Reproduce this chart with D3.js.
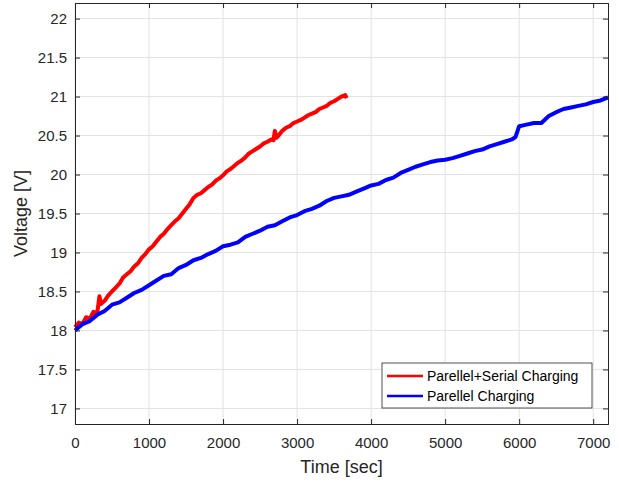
<!DOCTYPE html>
<html>
<head>
<meta charset="utf-8">
<script src="https://cdn.jsdelivr.net/npm/d3@7"></script>
<style>
  body { margin: 0; background: #fff; }
  svg { font-family: "Liberation Sans", Arial, sans-serif; }
</style>
</head>
<body>
<div id="chart"></div>
<script>
// series: parallel + serial charging (red), time in sec
const serialTime = [0, 50, 100, 150, 200, 250, 300, 330, 350, 400, 450, 500, 550, 600, 650, 700, 750, 800, 850, 900, 950,
    1000, 1050, 1100, 1150, 1200, 1250, 1300, 1350, 1400, 1450, 1500, 1550, 1600, 1650, 1700, 1750, 1800, 1850, 1900, 1950,
    2000, 2050, 2100, 2150, 2200, 2250, 2300, 2350, 2400, 2450, 2500, 2550, 2600, 2650, 2680, 2700, 2720, 2750, 2800, 2850, 2900, 2950,
    3000, 3050, 3100, 3150, 3200, 3250, 3300, 3350, 3400, 3450, 3500, 3550, 3600, 3650, 3670];
const serialVolt = [18.04, 18.1, 18.08, 18.17, 18.15, 18.24, 18.22, 18.44, 18.34, 18.38, 18.45, 18.5, 18.55, 18.6, 18.68, 18.72, 18.76, 18.82, 18.86, 18.93, 18.98,
    19.04, 19.08, 19.14, 19.2, 19.24, 19.3, 19.35, 19.4, 19.44, 19.5, 19.56, 19.62, 19.7, 19.74, 19.76, 19.8, 19.84, 19.87, 19.92, 19.95,
    19.99, 20.04, 20.07, 20.11, 20.15, 20.18, 20.22, 20.27, 20.3, 20.33, 20.36, 20.4, 20.42, 20.45, 20.44, 20.56, 20.47, 20.5, 20.56, 20.6, 20.62, 20.66,
    20.68, 20.7, 20.73, 20.76, 20.78, 20.8, 20.84, 20.86, 20.88, 20.92, 20.94, 20.97, 21.0, 21.02, 20.98];

// series: parallel charging (blue)
const parallelTime = [0, 100, 200, 300, 400, 500, 600, 700, 800, 900, 1000, 1100, 1200, 1300, 1400, 1500, 1600, 1700, 1800, 1900,
    2000, 2100, 2200, 2300, 2400, 2500, 2600, 2700, 2800, 2900, 3000, 3100, 3200, 3300, 3400, 3500, 3600, 3700, 3800, 3900,
    4000, 4100, 4200, 4300, 4400, 4500, 4600, 4700, 4800, 4900, 5000, 5100, 5200, 5300, 5400, 5500, 5600, 5700, 5800, 5900,
    5950, 6000, 6100, 6200, 6300, 6400, 6500, 6600, 6700, 6800, 6900, 7000, 7100, 7200];
const parallelVolt = [18.0, 18.08, 18.12, 18.2, 18.25, 18.33, 18.36, 18.42, 18.48, 18.52, 18.58, 18.64, 18.7, 18.72, 18.8, 18.84, 18.9, 18.93, 18.98, 19.02,
    19.08, 19.1, 19.13, 19.2, 19.24, 19.28, 19.33, 19.35, 19.4, 19.45, 19.48, 19.53, 19.56, 19.6, 19.66, 19.7, 19.72, 19.74, 19.78, 19.82,
    19.86, 19.88, 19.93, 19.96, 20.02, 20.06, 20.1, 20.13, 20.16, 20.18, 20.19, 20.21, 20.24, 20.27, 20.3, 20.32, 20.36, 20.39, 20.42, 20.45,
    20.48, 20.62, 20.64, 20.66, 20.66, 20.75, 20.8, 20.84, 20.86, 20.88, 20.9, 20.93, 20.95, 20.99];

const xTicks = [0, 1000, 2000, 3000, 4000, 5000, 6000, 7000];
const yTicks = [17, 17.5, 18, 18.5, 19, 19.5, 20, 20.5, 21, 21.5, 22];
const legendLabels = ['Parellel+Serial Charging', 'Parellel Charging'];
const seriesColors = ['#ff0000', '#0000ff'];

const width = 619, height = 483;
const margin = {top: 3, right: 11, bottom: 59, left: 75};
const w = width - margin.left - margin.right;
const h = height - margin.top - margin.bottom;
const axisColor = '#262626';

const svg = d3.select('#chart').append('svg')
    .attr('width', width)
    .attr('height', height);
const g = svg.append('g')
    .attr('transform', `translate(${margin.left}, ${margin.top})`);

const x = d3.scaleLinear().domain([0, 7200]).range([0, w]);
const y = d3.scaleLinear().domain([16.8, 22.2]).range([h, 0]);

// grid
g.append('g').selectAll('line').data(xTicks).enter().append('line')
    .attr('x1', d => x(d)).attr('x2', d => x(d))
    .attr('y1', 0).attr('y2', h)
    .attr('stroke', '#e2e2e2');
g.append('g').selectAll('line').data(yTicks).enter().append('line')
    .attr('x1', 0).attr('x2', w)
    .attr('y1', d => y(d)).attr('y2', d => y(d))
    .attr('stroke', '#e2e2e2');

// lines
const series = [
    {t: serialTime, v: serialVolt},
    {t: parallelTime, v: parallelVolt}
];
const line = d3.line()
    .x(d => x(d[0]))
    .y(d => y(d[1]));
series.forEach((s, i) => {
    g.append('path')
        .datum(s.t.map((t, j) => [t, s.v[j]]))
        .attr('fill', 'none')
        .attr('stroke', seriesColors[i])
        .attr('stroke-width', 4)
        .attr('stroke-linejoin', 'round')
        .attr('d', line);
});

// axes
const tickSize = 5;
g.append('g')
    .attr('transform', `translate(0, ${h})`)
    .call(d3.axisBottom(x).tickValues(xTicks).tickSize(-tickSize).tickPadding(13).tickFormat(d3.format('d')));
g.append('g')
    .call(d3.axisLeft(y).tickValues(yTicks).tickSize(-tickSize).tickPadding(8).tickFormat(d => d));
g.append('g')
    .call(d3.axisTop(x).tickValues(xTicks).tickSize(-tickSize).tickFormat(''));
g.append('g')
    .attr('transform', `translate(${w}, 0)`)
    .call(d3.axisRight(y).tickValues(yTicks).tickSize(-tickSize).tickFormat(''));
g.selectAll('.domain, .tick line').attr('stroke', axisColor);
g.selectAll('.tick text')
    .attr('fill', axisColor)
    .style('font-size', '15px')
    .style('font-family', '"Liberation Sans", Arial, sans-serif');

// axis labels
svg.append('text')
    .attr('x', margin.left + w / 2)
    .attr('y', 473)
    .attr('text-anchor', 'middle')
    .attr('fill', axisColor)
    .style('font-size', '18px')
    .text('Time [sec]');
svg.append('text')
    .attr('transform', `translate(27, ${margin.top + h / 2}) rotate(-90)`)
    .attr('text-anchor', 'middle')
    .attr('fill', axisColor)
    .style('font-size', '18px')
    .text('Voltage [V]');

// legend
const legend = svg.append('g').attr('transform', 'translate(382, 363)');
legend.append('rect')
    .attr('width', 210).attr('height', 45)
    .attr('fill', '#fff')
    .attr('stroke', axisColor)
    .attr('stroke-width', 0.8);
legendLabels.forEach((label, i) => {
    const ly = 13 + i * 20;
    legend.append('line')
        .attr('x1', 5).attr('x2', 41)
        .attr('y1', ly).attr('y2', ly)
        .attr('stroke', seriesColors[i])
        .attr('stroke-width', 2.5);
    legend.append('text')
        .attr('x', 45).attr('y', ly + 5)
        .attr('fill', '#000')
        .style('font-size', '14px')
        .text(label);
});
</script>
</body>
</html>
